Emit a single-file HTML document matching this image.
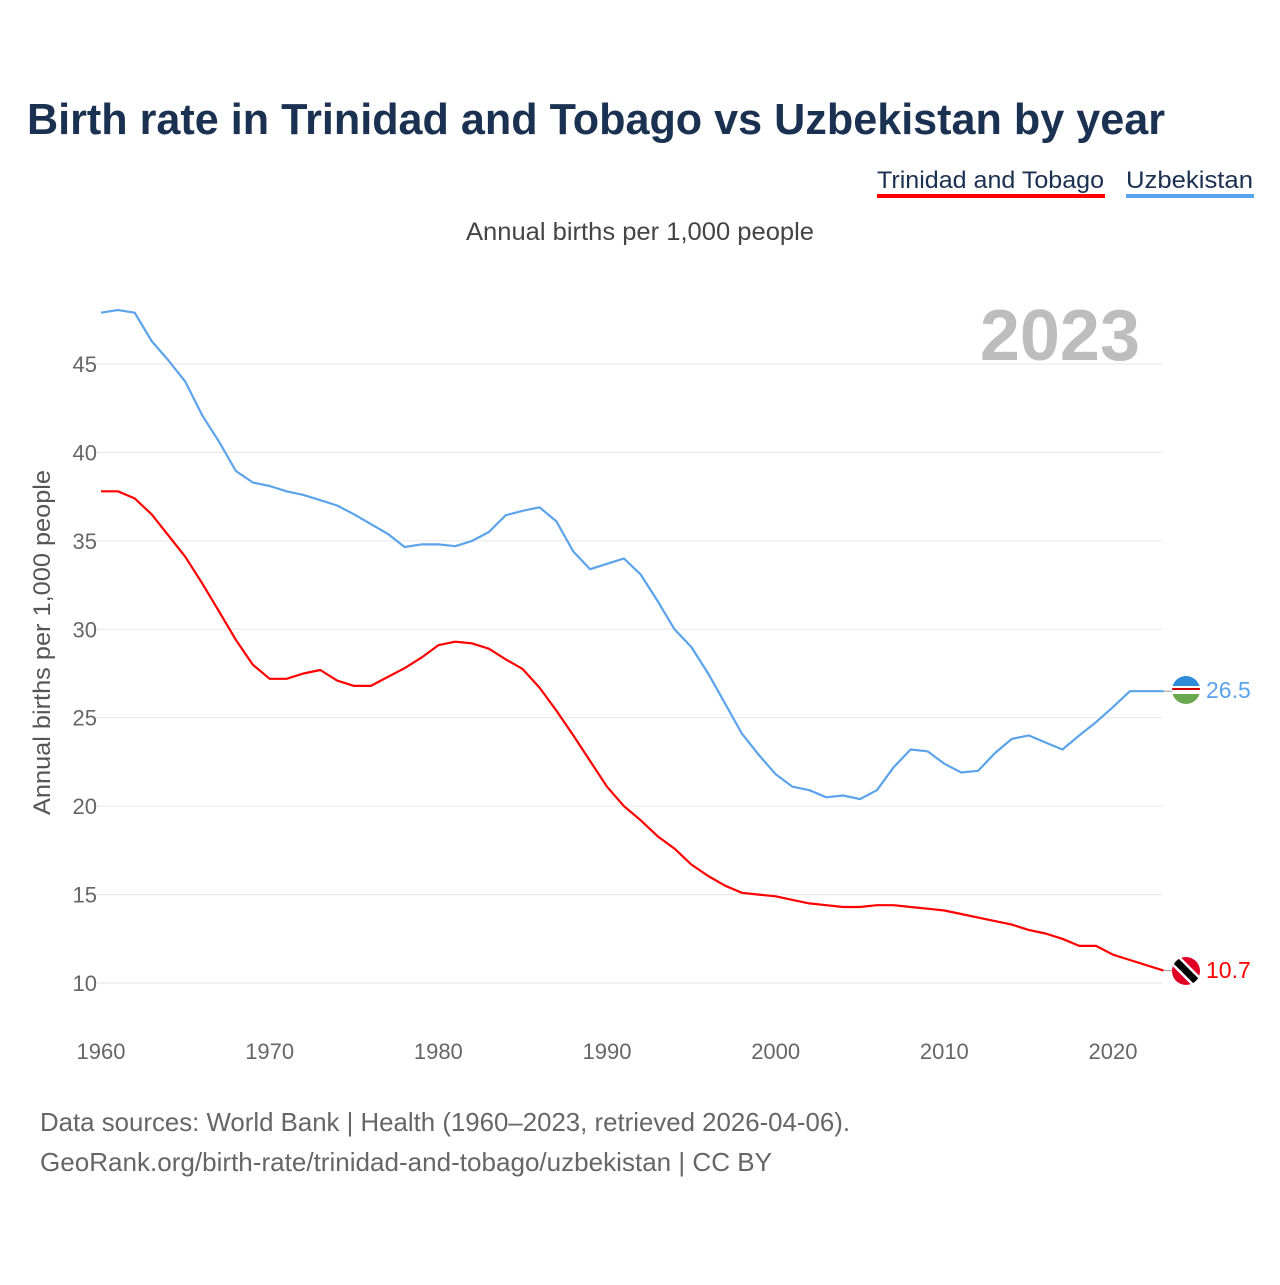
<!DOCTYPE html>
<html><head><meta charset="utf-8"><style>
body{margin:0;background:#fff;font-family:"Liberation Sans",sans-serif;}
svg text{font-family:"Liberation Sans",sans-serif;}
</style></head><body>
<svg width="1280" height="1280" viewBox="0 0 1280 1280">
<text x="27" y="134" font-size="44" font-weight="bold" fill="#1a3152" textLength="1138" lengthAdjust="spacingAndGlyphs">Birth rate in Trinidad and Tobago vs Uzbekistan by year</text>
<g><text x="877" y="188" font-size="24" fill="#1a3152" textLength="227" lengthAdjust="spacingAndGlyphs">Trinidad and Tobago</text><rect x="877" y="194" width="228" height="4" fill="#ff0000"/></g>
<g><text x="1126" y="188" font-size="24" fill="#1a3152" textLength="127" lengthAdjust="spacingAndGlyphs">Uzbekistan</text><rect x="1126" y="194" width="128" height="4" fill="#5ba3ea"/></g>
<text x="466" y="240" font-size="25" fill="#444" textLength="348" lengthAdjust="spacingAndGlyphs">Annual births per 1,000 people</text>
<text x="1140" y="360" font-size="72" font-weight="bold" fill="#bdbdbd" text-anchor="end">2023</text>
<text transform="translate(50,815) rotate(-90)" font-size="24" fill="#555" textLength="345" lengthAdjust="spacingAndGlyphs">Annual births per 1,000 people</text>
<g id="grid"></g><g id="lines"></g>
<g><clipPath id="c1"><circle cx="1186" cy="690" r="14"/></clipPath><g clip-path="url(#c1)"><rect x="1172" y="676" width="28" height="10" fill="#2e8bd8"/><rect x="1172" y="686" width="28" height="8" fill="#fff"/><rect x="1172" y="688" width="28" height="2" fill="#c00"/><rect x="1172" y="694" width="28" height="10" fill="#6aa84f"/></g></g>
<g><clipPath id="c2"><circle cx="1186" cy="971" r="14"/></clipPath><g clip-path="url(#c2)"><rect x="1172" y="957" width="28" height="28" fill="#e00025"/><line x1="1172" y1="957" x2="1200" y2="985" stroke="#fff" stroke-width="12"/><line x1="1172" y1="957" x2="1200" y2="985" stroke="#000" stroke-width="7"/></g></g>
<text x="1206" y="698" font-size="23" fill="#5ba3ea">26.5</text>
<text x="1206" y="978" font-size="23" fill="#ff0000">10.7</text>
<text x="40" y="1131" font-size="26" fill="#666" textLength="810" lengthAdjust="spacingAndGlyphs">Data sources: World Bank | Health (1960–2023, retrieved 2026-04-06).</text>
<text x="40" y="1171" font-size="26" fill="#666" textLength="732" lengthAdjust="spacingAndGlyphs">GeoRank.org/birth-rate/trinidad-and-tobago/uzbekistan | CC BY</text>
</svg>
<script>
const years=[];for(let y=1960;y<=2023;y++)years.push(y);
const uzbekistan=[47.9,48.05,47.9,46.3,45.2,44.0,42.1,40.6,38.95,38.3,38.1,37.8,37.6,37.3,37.0,36.5,35.95,35.4,34.65,34.8,34.8,34.7,35.0,35.5,36.45,36.7,36.9,36.1,34.4,33.4,33.7,34.0,33.1,31.6,30.0,29.0,27.5,25.8,24.1,22.9,21.8,21.1,20.9,20.5,20.6,20.4,20.9,22.2,23.2,23.1,22.4,21.9,22.0,23.0,23.8,24.0,23.6,23.2,24.0,24.75,25.6,26.5,26.5,26.5];
const trinidad=[37.8,37.8,37.4,36.5,35.3,34.1,32.6,31.0,29.4,28.0,27.2,27.2,27.5,27.7,27.1,26.8,26.8,27.3,27.8,28.4,29.1,29.3,29.2,28.9,28.3,27.75,26.7,25.4,24.0,22.55,21.1,20.0,19.2,18.3,17.6,16.7,16.05,15.5,15.1,15.0,14.9,14.7,14.5,14.4,14.3,14.3,14.4,14.4,14.3,14.2,14.1,13.9,13.7,13.5,13.3,13.0,12.8,12.5,12.1,12.1,11.6,11.3,11.0,10.7];
const yTicks=[10,15,20,25,30,35,40,45];
const xTicks=[1960,1970,1980,1990,2000,2010,2020];
const NS="http://www.w3.org/2000/svg";
const xs=y=>101+(y-1960)*(1113-101)/60;
const ys=v=>983-(v-10)*(983-364)/35;
const grid=document.getElementById('grid'),lines=document.getElementById('lines');
function mk(t,a,p){const e=document.createElementNS(NS,t);for(const k in a)e.setAttribute(k,a[k]);p.appendChild(e);return e;}
yTicks.forEach(v=>{
 const l=mk('line',{x1:95,x2:1162,y1:ys(v),y2:ys(v),stroke:'#e6e6e6','stroke-width':1},grid);
 
 
 const t=mk('text',{x:97,y:ys(v)+8,'font-size':22,fill:'#666','text-anchor':'end'},grid);t.textContent=v;
 
 
});
xTicks.forEach(y=>{
 const t=mk('text',{x:xs(y),y:1059,'font-size':22,fill:'#666','text-anchor':'middle'},grid);t.textContent=y;
 
 
});
function line(d,c,n){
 const p=mk('path',{d:d.map((v,i)=>(i?'L':'M')+xs(years[i]).toFixed(1)+','+ys(v).toFixed(1)).join(''),fill:'none',stroke:c,'stroke-width':2.2,'stroke-linejoin':'round'},lines);
 
 
 const last=d[d.length-1];
 const k=mk('line',{x1:xs(2023),x2:1172,y1:ys(last),y2:ys(last),stroke:'#999','stroke-width':1},lines);
 
 
}
line(uzbekistan,'#5ba3ea','uzbekistan-line');
line(trinidad,'#ff0000','trinidad-line');
</script>
</body></html>
